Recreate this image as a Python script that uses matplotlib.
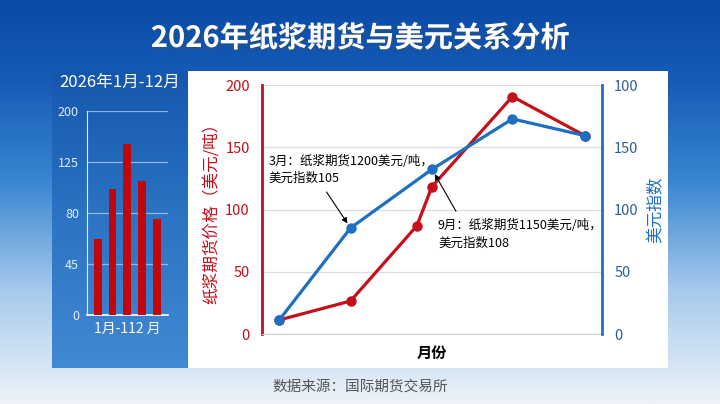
import numpy as np
import matplotlib
matplotlib.use('Agg')
import matplotlib.pyplot as plt
from matplotlib.colors import LinearSegmentedColormap
from matplotlib.patches import Rectangle
import matplotlib.patheffects as pe

# Data #
bar_values = [62, 101, 151, 108, 76]
bar_ticks = [0, 45, 80, 125, 200]

x_red = [0.5, 2.6, 4.55, 5.0, 7.37, 9.5]
pulp_price = [11.5, 26.7, 86.9, 118.5, 190.7, 159.4]
x_blue = [0.5, 2.6, 5.0, 7.37, 9.5]
usd_index = [11.5, 85.3, 132.4, 172.8, 159.4]

left_ticks = [0, 50, 100, 150, 200]
right_ticklabels = ['0', '50', '100', '150', '100']

note_mar = '3月：纸浆期货1200美元/吨，\n美元指数105'
note_sep = '9月：纸浆期货1150美元/吨，\n美元指数108'

# Fonts #
plt.rcParams['font.family'] = ['Noto Sans CJK SC', 'DejaVu Sans']
plt.rcParams['axes.unicode_minus'] = False

RED = '#c3101a'
BLUE = '#1c6fc1'

fig = plt.figure(figsize=(7.2, 4.04), dpi=100)

# Background #
bg = fig.add_axes([0, 0, 1, 1])
bg.axis('off')
sky = LinearSegmentedColormap.from_list(
    'sky', [(0, '#0a4aa6'), (0.2, '#155cb8'), (0.45, '#3a86d2'),
            (0.72, '#a6caec'), (1, '#eef3f9')])
grad = np.linspace(0, 1, 256).reshape(-1, 1)
bg.imshow(grad, cmap=sky, aspect='auto', extent=(0, 720, 404, 0), zorder=0)

panel = LinearSegmentedColormap.from_list('panel', ['#1557ad', '#2c74c4', '#4189d2'])
bg.imshow(grad, cmap=panel, aspect='auto', extent=(52, 188, 368, 71), zorder=1)
bg.add_patch(Rectangle((188, 71), 480, 297, facecolor='white', edgecolor='none', zorder=1))
bg.set_xlim(0, 720)
bg.set_ylim(404, 0)

fig.text(0.5, 1 - 38 / 404, '2026年纸浆期货与美元关系分析', ha='center', va='center',
         color='white', fontsize=21, fontweight='bold',
         path_effects=[pe.withSimplePatchShadow(offset=(1, -1.5), alpha=0.35)])
fig.text(119.5 / 720, 1 - 82 / 404, '2026年1月-12月', ha='center', va='center',
         color='white', fontsize=12)
fig.text(0.5, 1 - 387 / 404, '数据来源：国际期货交易所', ha='center', va='center',
         color='#555555', fontsize=10.5)

# Small bar chart #
axb = fig.add_axes([87.3 / 720, 1 - 315 / 404, 80.4 / 720, 204.3 / 404])
axb.set_facecolor('none')
pos = np.arange(len(bar_ticks))
axb.set_yscale('function', functions=(lambda v: np.interp(v, bar_ticks, pos),
                                      lambda p: np.interp(p, pos, bar_ticks)))
axb.bar(np.arange(len(bar_values)), bar_values, width=0.53, color='#c0070e', zorder=3)
axb.set_ylim(0, 200)
axb.set_xlim(-0.7, 4.73)
axb.set_yticks(bar_ticks)
axb.set_yticklabels([str(t) for t in bar_ticks])
axb.yaxis.set_minor_locator(matplotlib.ticker.NullLocator())
axb.set_xticks([])
axb.tick_params(axis='y', length=0, colors='#e3edf8', labelsize=9, pad=6)
axb.grid(axis='y', color='#a9cbef', lw=0.9, alpha=0.8, zorder=0)
for s in ['top', 'right']:
    axb.spines[s].set_visible(False)
axb.spines['left'].set_color('#e8f0fa')
axb.spines['bottom'].set_color('white')
axb.spines['bottom'].set_linewidth(1.2)
axb.set_xlabel('1月-112 月', color='white', fontsize=10, labelpad=5)

# Main chart #
ax = fig.add_axes([262.3 / 720, 1 - 334.3 / 404, 339.4 / 720, 249.3 / 404])
ax.set_facecolor('none')
ax.set_xlim(0, 10)
ax.set_ylim(0, 200)
ax.set_yticks(left_ticks)
ax.set_xticks([])
ax.grid(axis='y', color='#dddddd', lw=0.9, zorder=0)
ax.tick_params(axis='y', length=0, colors=RED, labelsize=10.5, pad=9)
ax.spines['top'].set_visible(False)
ax.spines['right'].set_visible(False)
ax.spines['left'].set_color(RED)
ax.spines['left'].set_linewidth(2)
ax.spines['bottom'].set_color('#cccccc')
ax.set_ylabel('纸浆期货价格（美元/吨）', color=RED, fontsize=12, labelpad=4)
ax.set_xlabel('月份', fontsize=11, fontweight='bold', labelpad=8)

ax.plot(x_red, pulp_price, color=RED, lw=2.3, marker='o', ms=6.5, zorder=3)
ax.plot(x_blue, usd_index, color=BLUE, lw=2.3, marker='o', ms=6.5, zorder=4)

ax2 = ax.twinx()
ax2.set_ylim(0, 200)
ax2.set_yticks(left_ticks)
ax2.set_yticklabels(right_ticklabels)
ax2.tick_params(axis='y', length=0, colors='#2d5f96', labelsize=10.5, pad=9)
for s in ['top', 'left', 'bottom']:
    ax2.spines[s].set_visible(False)
ax2.spines['right'].set_color(BLUE)
ax2.spines['right'].set_linewidth(2)
ax2.set_ylabel('美元指数', color=BLUE, fontsize=12, labelpad=6)

# Annotations #
arrow = dict(arrowstyle='-|>', color='black', lw=0.8, mutation_scale=8,
             shrinkA=0, shrinkB=4)
ax.annotate('', xy=(x_blue[1], usd_index[1]), xytext=(-24, 36),
            textcoords='offset pixels', arrowprops=arrow, zorder=5)
ax.annotate(note_mar, xy=(x_blue[1], usd_index[1]), xytext=(-82, 58),
            textcoords='offset pixels', ha='left', va='center',
            fontsize=9, linespacing=1.45, zorder=5)
ax.annotate('', xy=(x_blue[2], usd_index[2]), xytext=(24, -42),
            textcoords='offset pixels', arrowprops=arrow, zorder=5)
ax.annotate(note_sep, xy=(x_blue[2], usd_index[2]), xytext=(6, -65),
            textcoords='offset pixels', ha='left', va='center',
            fontsize=9, linespacing=1.45, zorder=5)

fig.savefig('out.png', dpi=100)
